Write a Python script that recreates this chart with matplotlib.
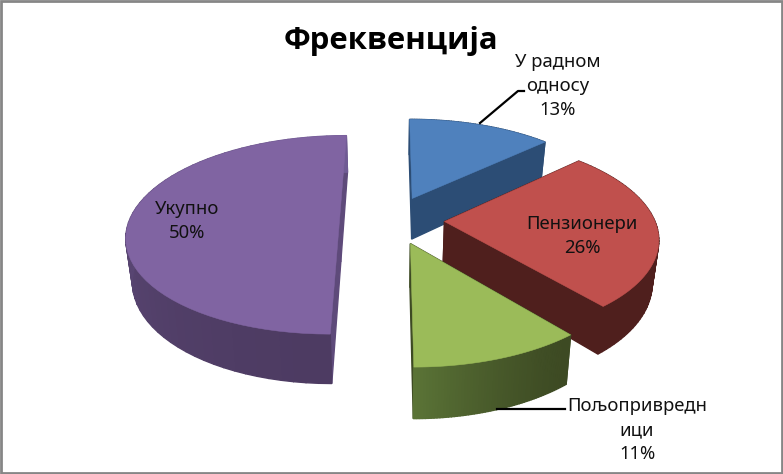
import matplotlib
matplotlib.use('Agg')
import matplotlib.pyplot as plt
import numpy as np
from matplotlib.colors import to_rgb
from matplotlib.patches import Rectangle

# Data
title = 'Фреквенција'
categories = ['У радном\nодносу', 'Пензионери', 'Пољопривредн\nици', 'Укупно']
percent = [13, 26, 11, 50]

# Colours: top face, cut face, arc side at slice start and end
top_colors = ['#4F81BD', '#C0504D', '#9BBB59', '#8064A2']
cut_colors = ['#2C4D75', '#4F1F1D', '#3D4A23', '#5E4A7A']
side_start = ['#2C4D75', '#4F1F1D', '#3D4A23', '#4D3B62']
side_end = ['#2C4D75', '#4F1F1D', '#5A7336', '#705B94']

# 3D view of the pie, in pixels
cx, cy = 392, 220
rx, ry = 210, 97
persp = 0.15
explode = 0.25
depth = 42
shrink = 0.975


def project(X, Y):
    # Y points towards the viewer
    s = 1 / (1 - persp * Y)
    return cx + rx * X * s, cy + ry * Y * s, s


def lower(X, Y):
    sx, sy, s = project(X, Y)
    return cx + (sx - cx) * shrink, sy + depth * s


def quad(ax, p, q, color):
    xs = [p[0], q[0], q[2], p[2]]
    ys = [p[1], q[1], q[3], p[3]]
    ax.fill(xs, ys, color=color, lw=1.0, zorder=2)


def edge_point(X, Y):
    sx, sy, _ = project(X, Y)
    bx, by = lower(X, Y)
    return sx, sy, bx, by


fig = plt.figure(figsize=(7.83, 4.74), dpi=100)
ax = fig.add_axes([0, 0, 1, 1])
ax.set_xlim(0, 783)
ax.set_ylim(474, 0)
ax.axis('off')

fractions = np.array(percent) / sum(percent)
ends = np.cumsum(fractions) * 2 * np.pi
starts = ends - fractions * 2 * np.pi

# Purple goes first, green last, so the overlaps come out right
for i in [3, 0, 1, 2]:
    mid = (starts[i] + ends[i]) / 2
    ox = explode * np.sin(mid)
    oy = -explode * np.cos(mid)
    theta = np.linspace(starts[i], ends[i], 60)
    X = ox + np.sin(theta)
    Y = oy - np.cos(theta)

    # cut faces
    apex = edge_point(ox, oy)
    quad(ax, apex, edge_point(X[0], Y[0]), cut_colors[i])
    quad(ax, apex, edge_point(X[-1], Y[-1]), cut_colors[i])

    # curved side, shaded along the arc
    c0 = np.array(to_rgb(side_start[i]))
    c1 = np.array(to_rgb(side_end[i]))
    for j in range(len(theta) - 1):
        t = (j / (len(theta) - 2)) ** 1.5
        quad(ax, edge_point(X[j], Y[j]), edge_point(X[j + 1], Y[j + 1]),
             tuple(c0 + (c1 - c0) * t))

    # top face
    tx, ty, _ = project(np.r_[ox, X], np.r_[oy, Y])
    ax.fill(tx, ty, color=top_colors[i], lw=0.4, zorder=2)

# Leader lines
ax.plot([480, 518, 524], [123, 91, 91], color='black', lw=1.6, zorder=3)
ax.plot([497, 565], [409, 409], color='black', lw=1.6, zorder=3)

# Text
font = 'Noto Sans'
ax.text(391, 41, title, ha='center', va='center', family='Open Sans',
        fontsize=22.4, fontweight='bold', color='black')
label_pos = [(558, 86), (582, 236), (637, 430), (187, 221)]
for name, p, (lx, ly) in zip(categories, percent, label_pos):
    ax.text(lx, ly, f'{name}\n{p}%', ha='center', va='center', family=font,
            fontsize=13.3, linespacing=1.42, color='#111111', zorder=4)

# Chart frame
ax.add_patch(Rectangle((1, 1), 781, 472, fill=False, ec='#868686', lw=2,
                       zorder=5))

fig.savefig('out.png', dpi=100)
